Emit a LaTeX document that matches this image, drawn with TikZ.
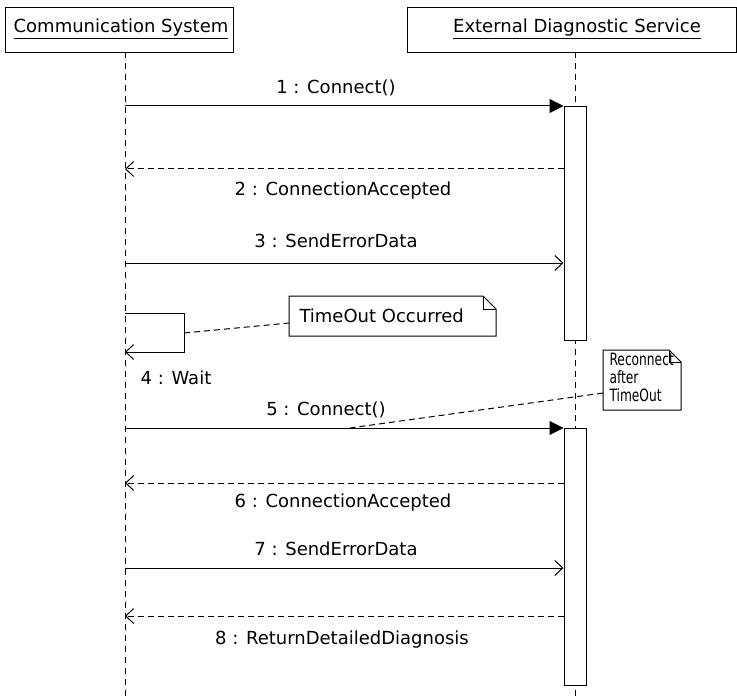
\documentclass[tikz,border=0pt]{standalone}
\usepackage{fontspec}
\setmainfont{DejaVu Sans}
\usetikzlibrary{arrows.meta}
\begin{document}
\begin{tikzpicture}[x=1pt, y=-1pt, line width=1pt,
  font=\fontsize{18}{21}\selectfont,
  obj/.style={draw, minimum height=45pt, inner sep=0pt, anchor=north west},
  lifeline/.style={dash pattern=on 6pt off 5pt},
  act/.style={draw, fill=white, minimum width=22pt, inner sep=0pt, anchor=north},
  call/.style={-{Triangle[length=14pt,width=14pt]}},
  async/.style={-{Straight Barb[length=8pt,width=15pt]}},
  reply/.style={dash pattern=on 6pt off 4pt, -{Straight Barb[length=8pt,width=15pt]}},
  msg/.style={inner sep=0pt},
  notebox/.style={inner sep=0pt},
  notelink/.style={dash pattern=on 6pt off 4pt}
]
\useasboundingbox (0,0) rectangle (737,698);

% objects
\node[obj, minimum width=228pt] (cs) at (5,7) {};
\node (csl) at (121,29) {\underline{Communication System}};
\node[obj, minimum width=329pt] (eds) at (407,7) {};
\node (edsl) at (577,29) {\underline{External Diagnostic Service}};

% lifelines
\coordinate (csTop) at (125,52);
\coordinate (csBot) at (125,698);
\coordinate (edsTop) at (575,52);
\coordinate (edsBot) at (575,698);
\draw[lifeline] (csTop) -- (csBot);
\draw[lifeline] (edsTop) -- (edsBot);

% activations
\node[act, minimum height=234pt] (a1) at (575,106) {};
\node[act, minimum height=257pt] (a2) at (575,428) {};

% message end points on the caller lifeline
\coordinate (c1) at (125,106);
\coordinate (c2) at (125,169);
\coordinate (c3) at (125,263);
\coordinate (c4a) at (125,313);
\coordinate (c4b) at (184,313);
\coordinate (c4c) at (184,352);
\coordinate (c4d) at (125,352);
\coordinate (c5) at (125,428);
\coordinate (c6) at (125,483);
\coordinate (c7) at (125,568);
\coordinate (c8) at (125,616);

% messages
\draw[call] (c1) -- (a1.north west);
\node[msg] (l1) at (336,88) {1 : Connect()};
\draw[reply] (a1.west |- c2) -- (c2);
\node[msg] (l2) at (343,191) {2 : ConnectionAccepted};
\draw[async] (c3) -- (a1.west |- c3);
\node[msg] (l3) at (336,241) {3 : SendErrorData};
\draw[async] (c4a) -- (c4b) -- (c4c) -- (c4d);
\node[msg] (l4) at (176,378) {4 : Wait};
\draw[call] (c5) -- (a2.north west);
\node[msg] (l5) at (326,410) {5 : Connect()};
\draw[reply] (a2.west |- c6) -- (c6);
\node[msg] (l6) at (343,503) {6 : ConnectionAccepted};
\draw[async] (c7) -- (a2.west |- c7);
\node[msg] (l7) at (336,549) {7 : SendErrorData};
\draw[reply] (a2.west |- c8) -- (c8);
\node[msg] (l8) at (342,640) {8 : ReturnDetailedDiagnosis};

% notes
\draw[fill=white] (289,296) -- (483,296) -- (496,309) -- (496,336) -- (289,336) -- cycle;
\draw (483,296) -- (483,309) -- (496,309);
\node[notebox, anchor=west] (n1) at (299,316) {TimeOut Occurred};
\coordinate (n1l) at (289,323);
\coordinate (w1) at (184,333);
\draw[notelink] (w1) -- (n1l);

\draw[fill=white] (603,350) -- (669,350) -- (681,362) -- (681,410) -- (603,410) -- cycle;
\draw (669,350) -- (669,362) -- (681,362);
\node[notebox, anchor=north west] (n2) at (609,353)
  {\scalebox{0.72}[1]{\fontsize{17}{15.5}\selectfont
   \begin{tabular}{@{}l@{}}Reconnect\\after\\TimeOut\end{tabular}}};
\coordinate (n2l) at (603,393);
\coordinate (w5) at (350,428);
\draw[notelink] (n2l) -- (w5);
\end{tikzpicture}
\end{document}
